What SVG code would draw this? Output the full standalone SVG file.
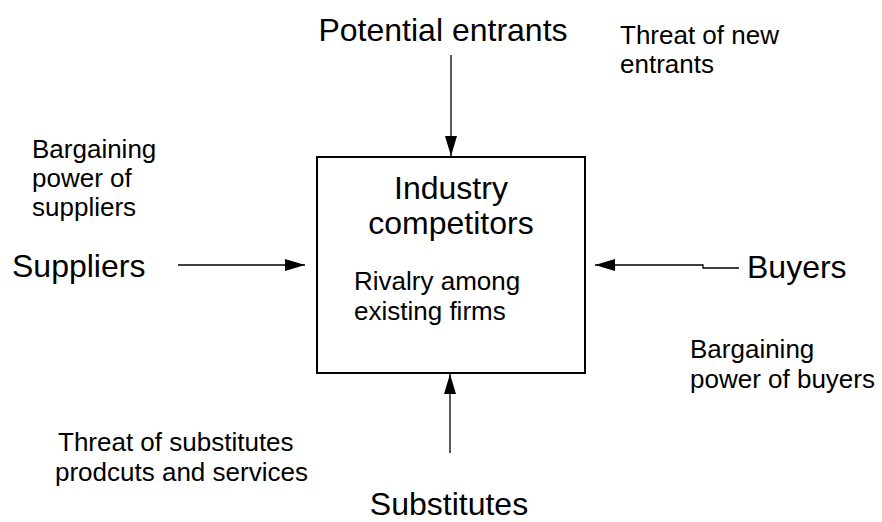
<svg xmlns="http://www.w3.org/2000/svg" width="882" height="522" viewBox="0 0 882 522">
<style>
text{font-family:"Liberation Sans",Arial,sans-serif;fill:#000}
.big{font-size:32px}
.sm{font-size:26px}
.ln{stroke:#000;stroke-width:1.3;fill:none}
</style>
<defs>
<marker id="ah" viewBox="0 0 20 12" refX="20" refY="6" markerWidth="20" markerHeight="12" markerUnits="userSpaceOnUse" orient="auto">
<path d="M0,0 L20,6 L0,12 Z" fill="#000"/>
</marker>
</defs>
<rect width="882" height="522" fill="#fff"/>
<g id="competitors">
<rect x="317" y="157" width="268" height="216" fill="#fff" stroke="#000" stroke-width="2"/>
<text class="big" x="451" y="199" text-anchor="middle">Industry</text>
<text class="big" x="451" y="234" text-anchor="middle">competitors</text>
<text class="sm" x="354" y="290">Rivalry among</text>
<text class="sm" x="354" y="320">existing firms</text>
</g>
<g id="entrants">
<text class="big" x="443" y="41" text-anchor="middle">Potential entrants</text>
</g>
<g id="suppliers">
<text class="big" x="12" y="277">Suppliers</text>
</g>
<g id="buyers">
<text class="big" x="747" y="278">Buyers</text>
</g>
<g id="substitutes">
<text class="big" x="449" y="515" text-anchor="middle">Substitutes</text>
</g>
<g id="labels">
<text class="sm" x="620" y="44">Threat of new</text>
<text class="sm" x="620" y="73">entrants</text>
<text class="sm" x="32" y="158">Bargaining</text>
<text class="sm" x="32" y="187">power of</text>
<text class="sm" x="32" y="216">suppliers</text>
<text class="sm" x="690" y="358">Bargaining</text>
<text class="sm" x="690" y="388">power of buyers</text>
<text class="sm" x="58" y="451">Threat of substitutes</text>
<text class="sm" x="55" y="481">prodcuts and services</text>
</g>
<g id="connectors">
<path class="ln" d="M451,55 V156" marker-end="url(#ah)"/>
<path class="ln" d="M450,453 V374" marker-end="url(#ah)"/>
<path class="ln" d="M178,265 H305" marker-end="url(#ah)"/>
<path class="ln" d="M739,268 H703 V265 H595" marker-end="url(#ah)"/>
</g>
</svg>
